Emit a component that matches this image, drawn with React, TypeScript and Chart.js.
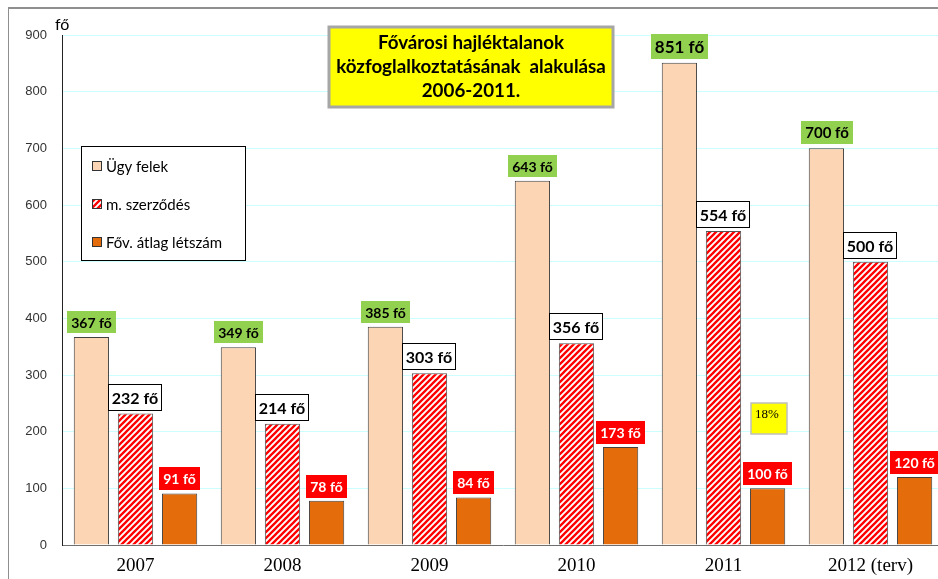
import React, { useEffect, useRef } from 'react';
import { Chart, registerables } from 'chart.js';

Chart.register(...registerables);

// ---------------- data ----------------
const categories = ['2007', '2008', '2009', '2010', '2011', '2012 (terv)'];
const seriesNames = ['Ügy felek', 'm. szerződés', 'Főv. átlag létszám'];
const ugyfelek = [367, 349, 385, 643, 851, 700];
const szerzodes = [232, 214, 303, 356, 554, 500];
const atlagLetszam = [91, 78, 84, 173, 100, 120];
const yTickValues = [0, 100, 200, 300, 400, 500, 600, 700, 800, 900];
const unitLabel = 'fő';
const titleLines = ['Fővárosi hajléktalanok', 'közfoglalkoztatásának  alakulása', '2006-2011.'];
const noteText = '18%';
const noteCategoryIndex = 4;
const noteTopValue = 250;

// ---------------- styles ----------------
const FONT = 'Lato, "Open Sans", sans-serif';
const labelStyles = [
  { bg: '#92d050', fg: '#000000', border: '', weight: 'bold', sizes: [14, 14, 14, 14, 17, 15], padY: 8, gap: 4 },
  { bg: '#ffffff', fg: '#000000', border: '#000000', weight: 'bold', sizes: [16, 16, 16, 16, 16, 16], padY: 11, gap: 3 },
  { bg: '#ff0000', fg: '#ffffff', border: '', weight: 'bold', sizes: [14, 14, 14, 14, 14, 14], padY: 9, gap: 3 },
];

function makeHatch(): CanvasPattern | string {
  const c = document.createElement('canvas');
  c.width = 6;
  c.height = 6;
  const g = c.getContext('2d');
  if (!g) return '#ff0000';
  g.fillStyle = '#ffffff';
  g.fillRect(0, 0, 6, 6);
  g.strokeStyle = '#ff0000';
  g.lineWidth = 2.3;
  g.beginPath();
  g.moveTo(-1, 7);
  g.lineTo(7, -1);
  g.moveTo(-1, 1);
  g.lineTo(1, -1);
  g.moveTo(5, 7);
  g.lineTo(7, 5);
  g.stroke();
  return g.createPattern(c, 'repeat') || '#ff0000';
}

const decorPlugin = {
  id: 'decor',
  beforeDraw(chart: any) {
    const ctx = chart.ctx;
    ctx.save();
    ctx.fillStyle = '#ffffff';
    ctx.fillRect(0, 0, chart.width, chart.height);
    ctx.restore();
  },
  afterDatasetsDraw(chart: any) {
    const ctx = chart.ctx;
    ctx.save();
    chart.data.datasets.forEach((ds: any, i: number) => {
      const meta = chart.getDatasetMeta(i);
      const st = labelStyles[i];
      meta.data.forEach((bar: any, j: number) => {
        const { x, y } = bar.getProps(['x', 'y'], true);
        const text = `${ds.data[j]} fő`;
        const size = st.sizes[j];
        ctx.font = `${st.weight} ${size}px ${FONT}`;
        const w = ctx.measureText(text).width + 8;
        const h = size + st.padY;
        const bx = Math.round(x - w / 2);
        const by = Math.round(y - st.gap - h);
        ctx.fillStyle = st.bg;
        ctx.fillRect(bx, by, Math.round(w), h);
        if (st.border) {
          ctx.strokeStyle = st.border;
          ctx.lineWidth = 1;
          ctx.strokeRect(bx + 0.5, by + 0.5, Math.round(w) - 1, h - 1);
        }
        ctx.fillStyle = st.fg;
        ctx.textAlign = 'center';
        ctx.textBaseline = 'middle';
        ctx.fillText(text, bx + Math.round(w) / 2, by + h / 2 + 1);
      });
    });
    ctx.restore();
  },
  afterDraw(chart: any) {
    const ctx = chart.ctx;
    const xs = chart.scales.x;
    const ys = chart.scales.y;
    ctx.save();

    // unit label
    ctx.fillStyle = '#000';
    ctx.font = `16px ${FONT}`;
    ctx.textAlign = 'left';
    ctx.textBaseline = 'alphabetic';
    ctx.fillText(unitLabel, 55, 30);

    // title box
    const tx = 329, ty = 27, tw = 284, th = 80;
    ctx.fillStyle = '#ffff00';
    ctx.fillRect(tx, ty, tw, th);
    ctx.strokeStyle = '#a6a6a6';
    ctx.lineWidth = 3;
    ctx.strokeRect(tx, ty, tw, th);
    let fs = 17;
    ctx.font = `bold ${fs}px ${FONT}`;
    const mw = Math.max(...titleLines.map((l) => ctx.measureText(l).width));
    fs = Math.min(19, (17 * 270) / mw);
    ctx.font = `bold ${fs}px ${FONT}`;
    ctx.fillStyle = '#000';
    ctx.textAlign = 'center';
    ctx.textBaseline = 'middle';
    const lineYs = [43, 67, 91];
    titleLines.forEach((l, k) => ctx.fillText(l, tx + tw / 2, lineYs[k]));

    // legend box
    const lx = 81, ly = 146, lw = 164, lh = 114;
    ctx.fillStyle = '#ffffff';
    ctx.fillRect(lx, ly, lw, lh);
    ctx.strokeStyle = '#000';
    ctx.lineWidth = 1;
    ctx.strokeRect(lx + 0.5, ly + 0.5, lw, lh);
    const rowYs = [166, 204, 242];
    chart.data.datasets.forEach((ds: any, i: number) => {
      const cy = rowYs[i];
      ctx.fillStyle = ds.backgroundColor;
      ctx.fillRect(92, cy - 5, 10, 10);
      ctx.strokeStyle = '#333';
      ctx.lineWidth = 1;
      ctx.strokeRect(92.5, cy - 4.5, 9, 9);
      ctx.fillStyle = '#000';
      ctx.font = `15px ${FONT}`;
      ctx.textAlign = 'left';
      ctx.textBaseline = 'middle';
      ctx.fillText(ds.label, 106, cy + 1);
    });

    // note box
    const nx = Math.round(xs.getPixelForValue(noteCategoryIndex) + 27.5);
    const ny = Math.round(ys.getPixelForValue(noteTopValue));
    ctx.fillStyle = '#ffff00';
    ctx.fillRect(nx, ny, 36, 31);
    ctx.strokeStyle = '#bfbfbf';
    ctx.lineWidth = 1.5;
    ctx.strokeRect(nx, ny, 36, 31);
    ctx.fillStyle = '#000';
    ctx.font = `13px "Liberation Serif", serif`;
    ctx.textAlign = 'left';
    ctx.textBaseline = 'middle';
    ctx.fillText(noteText, nx + 4, ny + 12);

    // frame
    ctx.fillStyle = '#8f8f8f';
    ctx.fillRect(8, 7, chart.width, 2);
    ctx.fillRect(8, 7, 1, chart.height);
    ctx.restore();
  },
};

export default function App() {
  const ref = useRef<HTMLCanvasElement>(null);
  useEffect(() => {
    document.body.style.margin = '0';
    document.body.style.overflow = 'hidden';
    const canvas = ref.current;
    if (!canvas) return;
    const hatch = makeHatch();
    const chart = new Chart(canvas, {
      type: 'bar',
      data: {
        labels: categories,
        datasets: [
          { label: seriesNames[0], data: ugyfelek, backgroundColor: '#fcd5b5', borderColor: '#404040', borderWidth: 1 },
          { label: seriesNames[1], data: szerzodes, backgroundColor: hatch as any, borderColor: '#555555', borderWidth: 1 },
          { label: seriesNames[2], data: atlagLetszam, backgroundColor: '#e46c0a', borderColor: '#404040', borderWidth: 1 },
        ],
      },
      options: {
        responsive: false,
        maintainAspectRatio: false,
        animation: false,
        events: [],
        layout: { padding: { top: 35, right: 2, left: 0, bottom: 0 } },
        datasets: { bar: { categoryPercentage: 0.9, barPercentage: 0.8 } },
        plugins: {
          legend: { display: false },
          title: { display: false },
          tooltip: { enabled: false },
        },
        scales: {
          x: {
            grid: { display: false, drawTicks: false },
            border: { color: '#6e6e6e', width: 1 },
            ticks: { color: '#000', font: { family: '"Liberation Serif", serif', size: 19 }, padding: 10 },
            afterFit: (s: any) => {
              s.height = 34;
            },
          },
          y: {
            min: 0,
            max: 900,
            afterBuildTicks: (s: any) => {
              s.ticks = yTickValues.map((v) => ({ value: v }));
            },
            grid: { color: '#ccffff', drawTicks: false },
            border: { color: '#222', width: 1 },
            ticks: { color: '#333', font: { family: '"Liberation Sans", sans-serif', size: 13 }, padding: 15 },
            afterFit: (s: any) => {
              s.width = 62;
            },
          },
        },
      },
      plugins: [decorPlugin],
    });
    return () => chart.destroy();
  }, []);
  return (
    <div style={{ width: 938, height: 579, overflow: 'hidden' }}>
      <canvas ref={ref} width={946} height={579} style={{ display: 'block' }} />
    </div>
  );
}
